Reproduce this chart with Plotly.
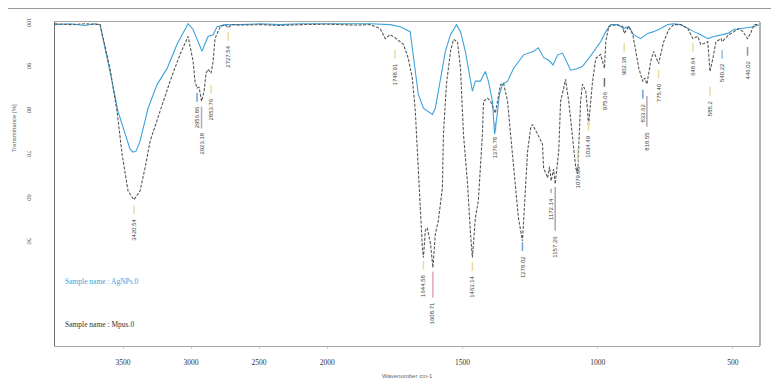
import plotly.graph_objects as go

# ---------------- data ----------------
mpus_wn = [4000, 3890, 3779, 3706, 3669, 3640, 3596, 3544, 3507, 3463, 3420, 3375, 3338, 3301, 3228, 3154, 3081, 3022,
           2985, 2971, 2956, 2941, 2923, 2904, 2890, 2875, 2853, 2838, 2824, 2787, 2750, 2727, 2700, 2640, 2493, 2346,
           2199, 2000, 1952, 1896, 1841, 1804, 1785, 1767, 1749, 1730, 1718, 1700, 1685, 1674, 1663, 1655, 1648, 1644,
           1637, 1630, 1618, 1609, 1600, 1589, 1574, 1570, 1559, 1544, 1533, 1518, 1507, 1496, 1481, 1470, 1463, 1452,
           1441, 1426, 1422, 1407, 1396, 1378, 1359, 1348, 1333, 1322, 1304, 1293, 1278, 1270, 1259, 1248, 1241, 1222,
           1204, 1200, 1185, 1178, 1172, 1163, 1157, 1144, 1137, 1126, 1119, 1107, 1093, 1081, 1074, 1063, 1056, 1044,
           1037, 1034, 1019, 1007, 989, 975, 970, 959, 933, 907, 902, 885, 870, 859, 848, 833, 826, 818, 804, 793, 775,
           756, 737, 719, 693, 667, 656, 648, 630, 619, 607, 593, 585, 574, 563, 544, 540, 515, 496, 478, 463, 446, 435,
           422, 404]
mpus_T = [99.9, 99.7, 99.9, 99.7, 99.7, 95.8, 89.7, 79.9, 70.1, 61.7, 59.7, 61.7, 67.0, 73.1, 79.9, 86.8, 92.9, 97.0,
          91.3, 86.7, 85.2, 85.4, 82.2, 84.5, 88.6, 89.5, 88.6, 91.3, 96.5, 99.2, 99.7, 99.0, 99.7, 99.6, 99.7, 99.5,
          99.7, 99.8, 99.7, 99.6, 99.7, 98.8, 96.5, 97.4, 96.7, 95.8, 95.2, 92.0, 87.4, 79.9, 67.0, 55.6, 48.8, 46.5,
          52.7, 53.3, 49.7, 44.2, 51.9, 54.9, 62.4, 74.7, 86.1, 93.6, 96.3, 95.8, 89.7, 74.7, 63.3, 51.9, 46.5, 55.6,
          59.5, 74.7, 82.2, 82.9, 82.2, 79.5, 86.0, 86.3, 82.2, 74.7, 63.3, 55.6, 50.3, 59.4, 70.8, 76.0, 76.9, 74.7,
          72.4, 67.0, 64.7, 67.3, 64.0, 66.7, 63.3, 70.8, 82.2, 85.1, 87.2, 82.2, 74.7, 67.0, 65.6, 82.2, 86.1, 84.5,
          79.9, 76.5, 86.7, 92.0, 92.9, 89.7, 95.8, 99.3, 99.7, 99.3, 97.7, 99.3, 97.4, 93.6, 89.7, 86.7, 87.5, 86.1,
          91.3, 93.6, 90.8, 95.8, 98.6, 99.7, 99.7, 98.8, 97.4, 96.5, 97.0, 95.2, 95.4, 95.8, 89.0, 92.0, 95.8, 96.5,
          95.8, 97.4, 98.1, 98.8, 98.1, 96.5, 97.7, 99.7, 99.7]

agnps_wn = [4000, 3890, 3779, 3706, 3669, 3625, 3581, 3537, 3485, 3449, 3426, 3404, 3375, 3316, 3250, 3176, 3103, 3044,
            3022, 2985, 2956, 2919, 2897, 2875, 2838, 2809, 2750, 2640, 2493, 2346, 2199, 2000, 1915, 1841, 1767, 1730,
            1693, 1674, 1663, 1644, 1626, 1611, 1600, 1589, 1574, 1563, 1544, 1522, 1507, 1489, 1478, 1463, 1452, 1433,
            1415, 1404, 1389, 1381, 1370, 1363, 1352, 1333, 1311, 1274, 1237, 1219, 1200, 1180, 1165, 1148, 1130, 1111,
            1100, 1074, 1056, 1033, 1007, 989, 970, 952, 926, 904, 885, 867, 841, 815, 793, 767, 741, 719, 693, 667, 644,
            619, 593, 570, 544, 519, 496, 470, 444, 422, 404]
agnps_T = [99.7, 99.9, 99.5, 99.9, 99.7, 93.6, 86.8, 79.9, 74.7, 71.3, 70.6, 70.8, 73.1, 80.6, 86.0, 89.7, 95.2, 98.6,
           99.9, 98.6, 96.5, 93.6, 95.4, 97.0, 97.4, 99.2, 99.7, 99.7, 99.9, 99.7, 99.9, 99.9, 99.9, 99.9, 99.7, 99.2,
           98.1, 89.7, 83.8, 80.6, 79.9, 79.2, 80.6, 84.5, 89.7, 93.6, 97.4, 99.7, 98.1, 93.6, 89.7, 84.5, 86.8, 86.8,
           89.0, 86.8, 82.2, 74.7, 79.9, 83.8, 86.0, 86.8, 89.7, 92.8, 93.6, 94.4, 92.2, 91.5, 90.5, 92.8, 93.2, 90.5,
           89.3, 89.7, 90.2, 92.0, 94.2, 95.8, 98.1, 99.7, 99.7, 98.8, 99.3, 97.4, 96.5, 97.7, 98.1, 98.8, 99.7, 99.9,
           99.7, 98.8, 98.1, 97.4, 96.5, 97.0, 97.4, 97.7, 98.6, 98.8, 99.0, 99.2, 99.7]

# peak labels
peak_wn = [3420, 2956, 2923, 2853, 2727, 1749, 1644, 1609, 1463, 1378, 1278, 1172, 1157, 1074, 1034, 975, 902, 833,
           818, 775, 648, 585, 540, 446]
peak_text = ["3420.54", "2956.86", "2923.18", "2853.76", "2727.54", "1748.91", "1644.58", "1608.71", "1463.14",
             "1376.78", "1278.02", "1172.14", "1157.26", "1079.96", "1034.49", "975.06", "902.38", "833.62",
             "818.55", "775.40", "648.64", "585.2", "540.22", "446.02"]
peak_label_T = [55.8, 81.5, 75.4, 83.3, 95.4, 91.3, 43.1, 36.7, 42.9, 74.7, 47.4, 60.6, 52.0, 67.7, 74.9, 84.9,
                92.9, 82.2, 75.8, 86.8, 92.9, 82.9, 91.3, 92.0]
peak_tick_len = [2, 2, 5, 2, 2, 2, 2, 6, 2, 2, 2, 1, 10, 3, 2, 2, 2, 2, 7, 2, 2, 2, 2, 2]
peak_tick_color = ["#eadca0", "#6f9fd8", "#b0b0b0", "#eadca0", "#eadca0", "#eadca0", "#eadca0", "#e0a8b0",
                   "#eadca0", "#6f9fd8", "#6f9fd8", "#b0b0b0", "#a8a8b8", "#eadca0", "#eadca0", "#707070",
                   "#eadca0", "#6f9fd8", "#b8a8a8", "#eadca0", "#eadca0", "#eadca0", "#8fc0e0", "#a09090"]

y_ticks = [50, 60, 70, 80, 90, 100]
x_ticks_hi = [3500, 3000, 2500]
x_ticks_lo = [2000, 1500, 1000, 500]

BREAK = 2000
SPLIT = 0.386

def part(wn, T, hi):
    pts = [(w, t) for w, t in zip(wn, T) if (w >= BREAK if hi else w <= BREAK)]
    return [p[0] for p in pts], [p[1] for p in pts]

fig = go.Figure()
black = dict(color="#585858", width=1.1, dash="3px,1.5px")
blue = dict(color="#3da3dc", width=1.1)
for hi, xa in [(True, "x"), (False, "x2")]:
    bx, by = part(agnps_wn, agnps_T, hi)
    fig.add_trace(go.Scatter(x=bx, y=by, xaxis=xa, yaxis="y", mode="lines", line=blue,
                             showlegend=False, hoverinfo="skip"))
    kx, ky = part(mpus_wn, mpus_T, hi)
    fig.add_trace(go.Scatter(x=kx, y=ky, xaxis=xa, yaxis="y", mode="lines", line=black,
                             showlegend=False, hoverinfo="skip"))

annotations = []
shapes = []
for w, txt, ty, tl, tc in zip(peak_wn, peak_text, peak_label_T, peak_tick_len, peak_tick_color):
    xr = "x" if w > BREAK else "x2"
    annotations.append(dict(x=w, y=ty, xref=xr, yref="y", text=txt, showarrow=False, textangle=-90,
                            xanchor="center", yanchor="top",
                            font=dict(family="Liberation Sans Narrow, Liberation Sans, sans-serif", size=6,
                                      color="#444444")))
    shapes.append(dict(type="line", xref=xr, yref="y", x0=w, x1=w, y0=ty + 0.6, y1=ty + 0.6 + tl,
                       line=dict(color=tc, width=1.5)))

annotations += [
    dict(x=0.012, y=0.2, xref="paper", yref="paper", text="Sample name : AgNPs.0", showarrow=False,
         xanchor="left", yanchor="middle", font=dict(family="Liberation Serif", size=7.5, color="#3da3dc")),
    dict(x=0.012, y=0.065, xref="paper", yref="paper", text="Sample name : Mpus.0", showarrow=False,
         xanchor="left", yanchor="middle", font=dict(family="Liberation Serif", size=7.5, color="#333333")),
    dict(x=-0.058, y=0.672, xref="paper", yref="paper", text="Transmittance [%]", showarrow=False,
         textangle=-90, xanchor="center", yanchor="middle",
         font=dict(family="Liberation Sans", size=6, color="#666666")),
    dict(x=0.5, y=-0.092, xref="paper", yref="paper", text="Wavenumber cm-1", showarrow=False,
         xanchor="center", yanchor="middle", font=dict(family="Liberation Sans", size=6, color="#666666")),
]
# top rule and right frame edge
shapes.append(dict(type="line", xref="paper", yref="paper", x0=-0.071, x1=1.04, y0=1.043, y1=1.043,
                   line=dict(color="#777777", width=1.2)))
shapes.append(dict(type="line", xref="paper", yref="paper", x0=1, x1=1, y0=0, y1=1,
                   line=dict(color="#9a9a9a", width=1.5)))

axis_common = dict(showgrid=False, zeroline=False, showline=True, linecolor="#a8a8a8", linewidth=1,
                   mirror=True, ticks="outside", ticklen=2, tickcolor="#b8d4e8", automargin=False,
                   tickfont=dict(family="Liberation Serif", size=7.5, color="#333333"))

# the page body adds an 8px offset; margins compensate for it
fig.update_layout(
    width=771, height=381,
    margin=dict(l=47, r=19, t=14, b=43),
    paper_bgcolor="white", plot_bgcolor="white",
    xaxis=dict(domain=[0, SPLIT], range=[4000, BREAK], tickvals=x_ticks_hi, anchor="y", ticklabelstandoff=7,
               **axis_common),
    xaxis2=dict(domain=[SPLIT, 1], range=[BREAK, 400], tickvals=x_ticks_lo, anchor="y", ticklabelstandoff=7,
                **axis_common),
    yaxis=dict(range=[26.3, 100.3], tickvals=y_ticks, tickangle=90, showgrid=False, zeroline=False,
               showline=True, linecolor="#6a6a6a", linewidth=1.3, mirror=False, ticks="", automargin=False,
               ticklabelstandoff=19, tickfont=dict(family="Liberation Serif", size=6.5, color="#444444")),
    annotations=annotations,
    shapes=shapes,
)

fig.write_html("out.html")
